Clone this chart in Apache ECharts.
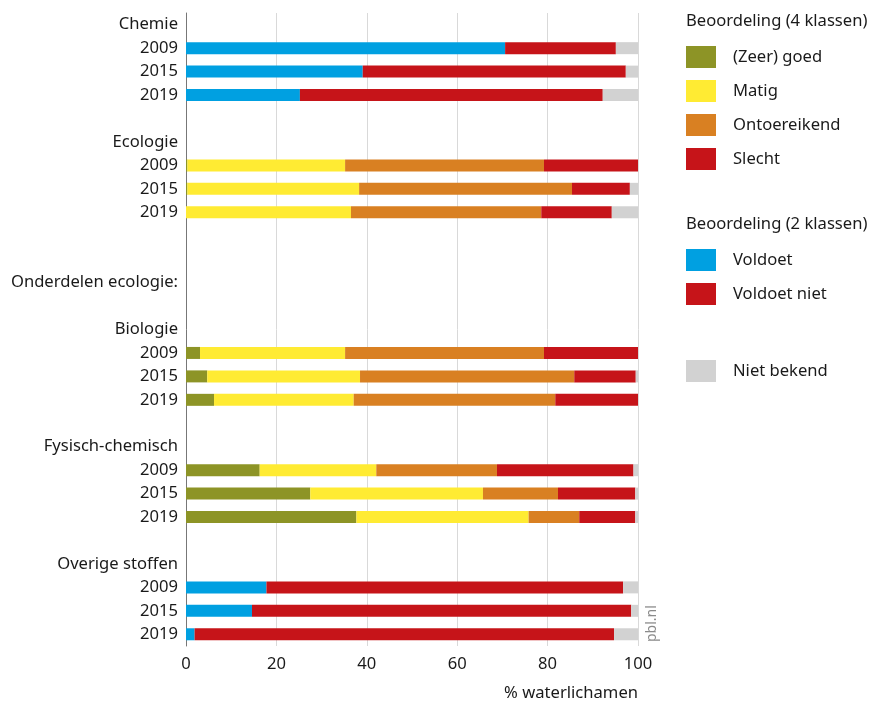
<!DOCTYPE html>
<html>
<head>
<meta charset="utf-8">
<script src="https://cdn.jsdelivr.net/npm/echarts@6/dist/echarts.min.js"></script>
<style>html,body{margin:0;padding:0;background:#fff}#c{width:872px;height:706px}</style>
</head>
<body>
<div id="c"></div>
<script>
// Row labels (top to bottom)
const rowLabels = ['Chemie','2009','2015','2019','','Ecologie','2009','2015','2019','','','Onderdelen ecologie:','','Biologie','2009','2015','2019','','Fysisch-chemisch','2009','2015','2019','','Overige stoffen','2009','2015','2019'];
const xTicks = [0, 20, 40, 60, 80, 100];

// Row indices of the year rows per group
const chemieRows = [1, 2, 3];
const ecologieRows = [6, 7, 8];
const biologieRows = [14, 15, 16];
const fysischRows = [19, 20, 21];
const overigeRows = [24, 25, 26];

// Segment widths (% waterlichamen) for 2009, 2015, 2019
const chemieVoldoet = [70.6, 39.1, 25.2];
const chemieVoldoetNiet = [24.5, 58.2, 67.0];
const chemieNietBekend = [4.9, 2.7, 7.8];

const ecologieGoed = [0.3, 0.3, 0];
const ecologieMatig = [34.9, 38.0, 36.5];
const ecologieOntoereikend = [44.0, 47.1, 42.1];
const ecologieSlecht = [20.8, 12.8, 15.6];
const ecologieNietBekend = [0, 1.8, 5.8];

const biologieGoed = [3.1, 4.7, 6.2];
const biologieMatig = [32.1, 33.8, 30.9];
const biologieOntoereikend = [44.0, 47.4, 44.6];
const biologieSlecht = [20.8, 13.6, 18.3];
const biologieNietBekend = [0, 0.5, 0];

const fysischGoed = [16.3, 27.5, 37.7];
const fysischMatig = [25.8, 38.2, 38.1];
const fysischOntoereikend = [26.7, 16.6, 11.2];
const fysischSlecht = [30.2, 17.1, 12.4];
const fysischNietBekend = [1.0, 0.6, 0.6];

const overigeVoldoet = [17.8, 14.6, 1.9];
const overigeVoldoetNiet = [78.9, 83.9, 92.8];
const overigeNietBekend = [3.3, 1.5, 5.3];

const seriesNames = ['(Zeer) goed','Matig','Ontoereikend','Slecht','Voldoet','Voldoet niet','Niet bekend'];
const colors = ['#8d9426','#ffeb33','#d98022','#c61419','#00a0e1','#c61419','#d2d2d2'];

function build(pairs) {
  const arr = rowLabels.map(() => 0);
  pairs.forEach(([rows, vals]) => rows.forEach((r, i) => { arr[r] = vals[i]; }));
  return arr;
}
const seriesData = [
  build([[ecologieRows, ecologieGoed],[biologieRows, biologieGoed],[fysischRows, fysischGoed]]),
  build([[ecologieRows, ecologieMatig],[biologieRows, biologieMatig],[fysischRows, fysischMatig]]),
  build([[ecologieRows, ecologieOntoereikend],[biologieRows, biologieOntoereikend],[fysischRows, fysischOntoereikend]]),
  build([[ecologieRows, ecologieSlecht],[biologieRows, biologieSlecht],[fysischRows, fysischSlecht]]),
  build([[chemieRows, chemieVoldoet],[overigeRows, overigeVoldoet]]),
  build([[chemieRows, chemieVoldoetNiet],[overigeRows, overigeVoldoetNiet]]),
  build([[chemieRows, chemieNietBekend],[ecologieRows, ecologieNietBekend],[biologieRows, biologieNietBekend],[fysischRows, fysischNietBekend],[overigeRows, overigeNietBekend]])
];

const categories = rowLabels.map((l, i) => i + '|' + l);
const FONT = 'Noto Sans';
const FS = 16.6;
const TXT = '#1a1a1a';

const chart = echarts.init(document.getElementById('c'), null, {renderer: 'canvas'});
const legendBase = {
  orient: 'vertical', left: 686, padding: 0, itemWidth: 30, itemHeight: 22, itemGap: 12,
  icon: 'rect', selectedMode: false,
  textStyle: {fontFamily: FONT, fontSize: FS, color: TXT, padding: [0, 0, 0, 12]}
};
chart.setOption({
  animation: false,
  textStyle: {fontFamily: FONT},
  grid: {left: 186, right: 234, top: 13, height: 633, containLabel: false},
  xAxis: {
    type: 'value', min: 0, max: 100, interval: 20,
    axisLine: {show: false}, axisTick: {show: false},
    splitLine: {show: true, lineStyle: {color: '#d9d9d9', width: 1}},
    axisLabel: {fontFamily: FONT, fontSize: FS, color: TXT, margin: 10,
      formatter: v => xTicks.includes(v) ? String(v) : ''}
  },
  yAxis: {
    type: 'category', inverse: true, data: categories,
    axisLine: {show: true, lineStyle: {color: '#777', width: 1}},
    axisTick: {show: false},
    axisLabel: {fontFamily: FONT, fontSize: FS, color: TXT, margin: 8,
      formatter: v => v.split('|')[1]}
  },
  legend: [
    Object.assign({}, legendBase, {top: 46, data: seriesNames.slice(0, 4)}),
    Object.assign({}, legendBase, {top: 249, data: seriesNames.slice(4, 6)}),
    Object.assign({}, legendBase, {top: 360, data: seriesNames.slice(6)})
  ],
  series: seriesNames.map((name, k) => ({
    name, type: 'bar', stack: 'all', barWidth: 12,
    itemStyle: {color: colors[k]},
    data: seriesData[k]
  })),
  graphic: [
    {type: 'text', left: 686, top: 13, style: {text: 'Beoordeling (4 klassen)', font: FS + 'px "Noto Sans"', fill: TXT}},
    {type: 'text', left: 686, top: 216, style: {text: 'Beoordeling (2 klassen)', font: FS + 'px "Noto Sans"', fill: TXT}},
    {type: 'text', right: 234, top: 685, style: {text: '% waterlichamen', font: FS + 'px "Noto Sans"', fill: TXT}},
    {type: 'text', x: 645, y: 642, rotation: Math.PI / 2, style: {text: 'pbl.nl', font: '14px "Noto Sans"', fill: '#8a8a8a'}}
  ]
});
</script>
</body>
</html>
